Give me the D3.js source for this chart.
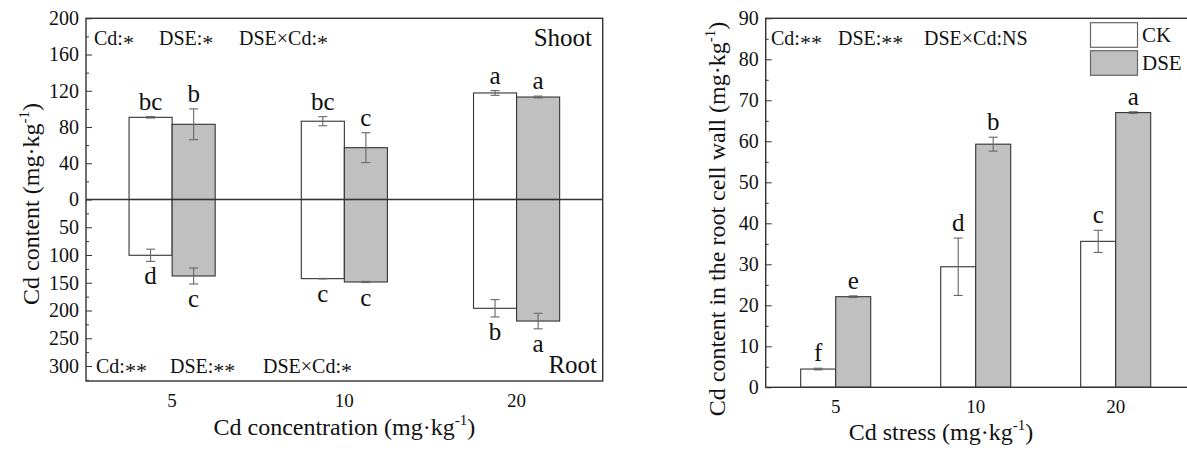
<!DOCTYPE html>
<html>
<head>
<meta charset="utf-8">
<script src="https://cdn.jsdelivr.net/npm/d3@7"></script>
<style>
  body { margin: 0; background: #fff; }
  svg text { font-family: "Liberation Serif", "Times New Roman", Times, serif !important; }
</style>
</head>
<body>
<svg id="chart" width="1187" height="450"></svg>
<script>
// categories and series
const categories = ["5", "10", "20"];
const series = ["CK", "DSE"];

// left panel: shoot (up) and root (down)
const shootCK = [90.7, 86.4, 117.6];
const shootCKErr = [0.8, 5.0, 2.6];
const shootDSE = [83.0, 57.2, 113.1];
const shootDSEErr = [17.0, 16.5, 1.0];
const shootCKLetters = ["bc", "bc", "a"];
const shootDSELetters = ["b", "c", "a"];

const rootCK = [100.5, 142.6, 196.0];
const rootCKErr = [11.0, 0.5, 15.6];
const rootDSE = [137.8, 148.6, 219.0];
const rootDSEErr = [14.4, 1.0, 14.0];
const rootCKLetters = ["d", "c", "b"];
const rootDSELetters = ["c", "c", "a"];

// right panel: root cell wall
const wallCK = [4.45, 29.4, 35.6];
const wallCKErr = [0.2, 7.0, 2.7];
const wallDSE = [22.1, 59.3, 67.0];
const wallDSEErr = [0.2, 1.7, 0.2];
const wallCKLetters = ["f", "d", "c"];
const wallDSELetters = ["e", "b", "a"];

// ticks
const shootTicks = [0, 40, 80, 120, 160, 200];
const shootMinor = [20, 60, 100, 140, 180];
const rootTicks = [50, 100, 150, 200, 250, 300];
const rootMinor = [25, 75, 125, 175, 225, 275, 325];
const wallTicks = [0, 10, 20, 30, 40, 50, 60, 70, 80, 90];
const wallMinor = [5, 15, 25, 35, 45, 55, 65, 75, 85];

const fills = { CK: "#ffffff", DSE: "#c0c0c0" };
const ink = "#333";

const svg = d3.select("#chart");

function rows(ck, ckErr, ckLet, dse, dseErr, dseLet) {
  const out = [];
  categories.forEach((c, i) => {
    out.push({ cat: c, s: "CK", v: ck[i], e: ckErr[i], l: ckLet[i] });
    out.push({ cat: c, s: "DSE", v: dse[i], e: dseErr[i], l: dseLet[i] });
  });
  return out;
}

// sub-band for bars inside each category
const xs = d3.scaleBand().domain(series).range([0.25, 0.75]);

function drawBars(g, x0, y, data, down) {
  const bw = x0.bandwidth();
  const bx = d => x0(d.cat) + bw * xs(d.s);
  const w = bw * xs.bandwidth();
  const cx = d => bx(d) + w / 2;

  g.selectAll(null).data(data).join("rect")
    .attr("x", bx)
    .attr("y", d => down ? y(0) : y(d.v))
    .attr("width", w)
    .attr("height", d => Math.abs(y(d.v) - y(0)))
    .attr("fill", d => fills[d.s])
    .attr("stroke", ink)
    .attr("stroke-width", 1.1);

  const eb = g.selectAll(null).data(data).join("g")
    .attr("stroke", "#666").attr("stroke-width", 1.1);
  eb.append("line")
    .attr("x1", cx).attr("x2", cx)
    .attr("y1", d => y(d.v - d.e)).attr("y2", d => y(d.v + d.e));
  eb.append("line")
    .attr("x1", d => cx(d) - 4.5).attr("x2", d => cx(d) + 4.5)
    .attr("y1", d => y(d.v + d.e)).attr("y2", d => y(d.v + d.e));
  eb.append("line")
    .attr("x1", d => cx(d) - 4.5).attr("x2", d => cx(d) + 4.5)
    .attr("y1", d => y(d.v - d.e)).attr("y2", d => y(d.v - d.e));

  g.selectAll(null).data(data).join("text")
    .attr("x", cx)
    .attr("y", d => down ? y(d.v + d.e) + 23 : y(d.v + d.e) - 7)
    .attr("text-anchor", "middle")
    .attr("font-size", 25)
    .attr("fill", "#111")
    .text(d => d.l);
}

function yAxis(g, scale, major, minor, left) {
  const a = g.append("g").attr("transform", `translate(${left},0)`)
    .call(d3.axisLeft(scale).tickValues(major).tickSize(-6).tickPadding(7));
  a.select(".domain").remove();
  a.selectAll("line").attr("stroke", ink);
  a.selectAll("text").attr("font-size", 20).attr("fill", "#111");
  const m = g.append("g").attr("transform", `translate(${left},0)`)
    .call(d3.axisLeft(scale).tickValues(minor).tickSize(-3).tickFormat(""));
  m.select(".domain").remove();
  m.selectAll("line").attr("stroke", ink);
}

function xLabels(g, x0, yPos) {
  g.selectAll(null).data(categories).join("text")
    .attr("x", d => x0(d) + x0.bandwidth() / 2)
    .attr("y", yPos)
    .attr("text-anchor", "middle")
    .attr("font-size", 19)
    .attr("fill", "#111")
    .text(d => d);
}

function unitTitle(g, pre, x, y, rotate) {
  const t = g.append("text")
    .attr("text-anchor", "middle")
    .attr("font-size", 24)
    .attr("fill", "#111")
    .attr("transform", rotate ? `translate(${x},${y}) rotate(-90)` : `translate(${x},${y})`);
  t.append("tspan").text(pre + " (mg·kg");
  t.append("tspan").attr("dy", -10).attr("font-size", 15).text("-1");
  t.append("tspan").attr("dy", 10).text(")");
}

// asterisks drawn lower than the font puts them, as in the figure
function notes(g, parts, xs, y) {
  parts.forEach((p, i) => {
    const t = g.append("text").attr("x", xs[i]).attr("y", y)
      .attr("font-size", 20).attr("fill", "#111");
    p.split(/(\*+)/).filter(s => s).forEach(s => {
      if (s[0] === "*") {
        t.append("tspan").attr("dy", 5).attr("font-size", 22).text(s);
        t.append("tspan").attr("dy", -5).text("");
      } else {
        t.append("tspan").text(s);
      }
    });
  });
}

// ---------- left panel ----------
const L = { left: 86, right: 602.7, top: 18.3, zero: 199.5, bottom: 381 };
const gl = svg.append("g");
const x0L = d3.scaleBand().domain(categories).range([L.left, L.right]);
const yUp = d3.scaleLinear().domain([0, 200]).range([L.zero, L.top]);
const yDown = d3.scaleLinear().domain([0, 327]).range([L.zero, L.bottom]);

drawBars(gl, x0L, yUp, rows(shootCK, shootCKErr, shootCKLetters, shootDSE, shootDSEErr, shootDSELetters), false);
drawBars(gl, x0L, yDown, rows(rootCK, rootCKErr, rootCKLetters, rootDSE, rootDSEErr, rootDSELetters), true);

gl.append("line")
  .attr("x1", L.left).attr("x2", L.right)
  .attr("y1", yUp(0)).attr("y2", yUp(0))
  .attr("stroke", ink).attr("stroke-width", 1.5);

gl.append("rect")
  .attr("x", L.left).attr("y", L.top)
  .attr("width", L.right - L.left).attr("height", L.bottom - L.top)
  .attr("fill", "none").attr("stroke", ink).attr("stroke-width", 1.4);

yAxis(gl, yUp, shootTicks, shootMinor, L.left);
yAxis(gl, yDown, rootTicks, rootMinor, L.left);
xLabels(gl, x0L, 407);
unitTitle(gl, "Cd concentration", (L.left + L.right) / 2, 435, false);
unitTitle(gl, "Cd content", 39, 204, true);

notes(gl, ["Cd:*", "DSE:*", "DSE×Cd:*"], [94, 159, 239], 45);
notes(gl, ["Cd:**", "DSE:**", "DSE×Cd:*"], [96, 170, 263], 373);
gl.append("text").attr("x", 592).attr("y", 46).attr("text-anchor", "end")
  .attr("font-size", 25).attr("fill", "#111").text("Shoot");
gl.append("text").attr("x", 597).attr("y", 373).attr("text-anchor", "end")
  .attr("font-size", 25).attr("fill", "#111").text("Root");

// ---------- right panel ----------
const R = { left: 765.7, right: 1185.7, top: 18.3, bottom: 387.3 };
const gr = svg.append("g");
const x0R = d3.scaleBand().domain(categories).range([R.left, R.right]);
const yR = d3.scaleLinear().domain([0, 90]).range([R.bottom, R.top]);

drawBars(gr, x0R, yR, rows(wallCK, wallCKErr, wallCKLetters, wallDSE, wallDSEErr, wallDSELetters), false);

gr.append("rect")
  .attr("x", R.left).attr("y", R.top)
  .attr("width", R.right + 3 - R.left).attr("height", R.bottom - R.top)
  .attr("fill", "none").attr("stroke", ink).attr("stroke-width", 1.4);

yAxis(gr, yR, wallTicks, wallMinor, R.left);
xLabels(gr, x0R, 413);
unitTitle(gr, "Cd stress", 941, 440, false);
unitTitle(gr, "Cd content in the root cell wall", 725, 219, true);
notes(gr, ["Cd:**", "DSE:**", "DSE×Cd:NS"], [771, 838, 924], 45);

// legend
const lg = gr.append("g").attr("transform", "translate(1090.5,22.7)");
const li = lg.selectAll(null).data(series).join("g")
  .attr("transform", (d, i) => `translate(0,${i * 28})`);
li.append("rect")
  .attr("width", 47).attr("height", 24.6)
  .attr("fill", d => fills[d]).attr("stroke", "#666").attr("stroke-width", 1.2);
li.append("text")
  .attr("x", 51.5).attr("y", 19.6)
  .attr("font-size", 21).attr("fill", "#111")
  .text(d => d);
</script>
</body>
</html>
